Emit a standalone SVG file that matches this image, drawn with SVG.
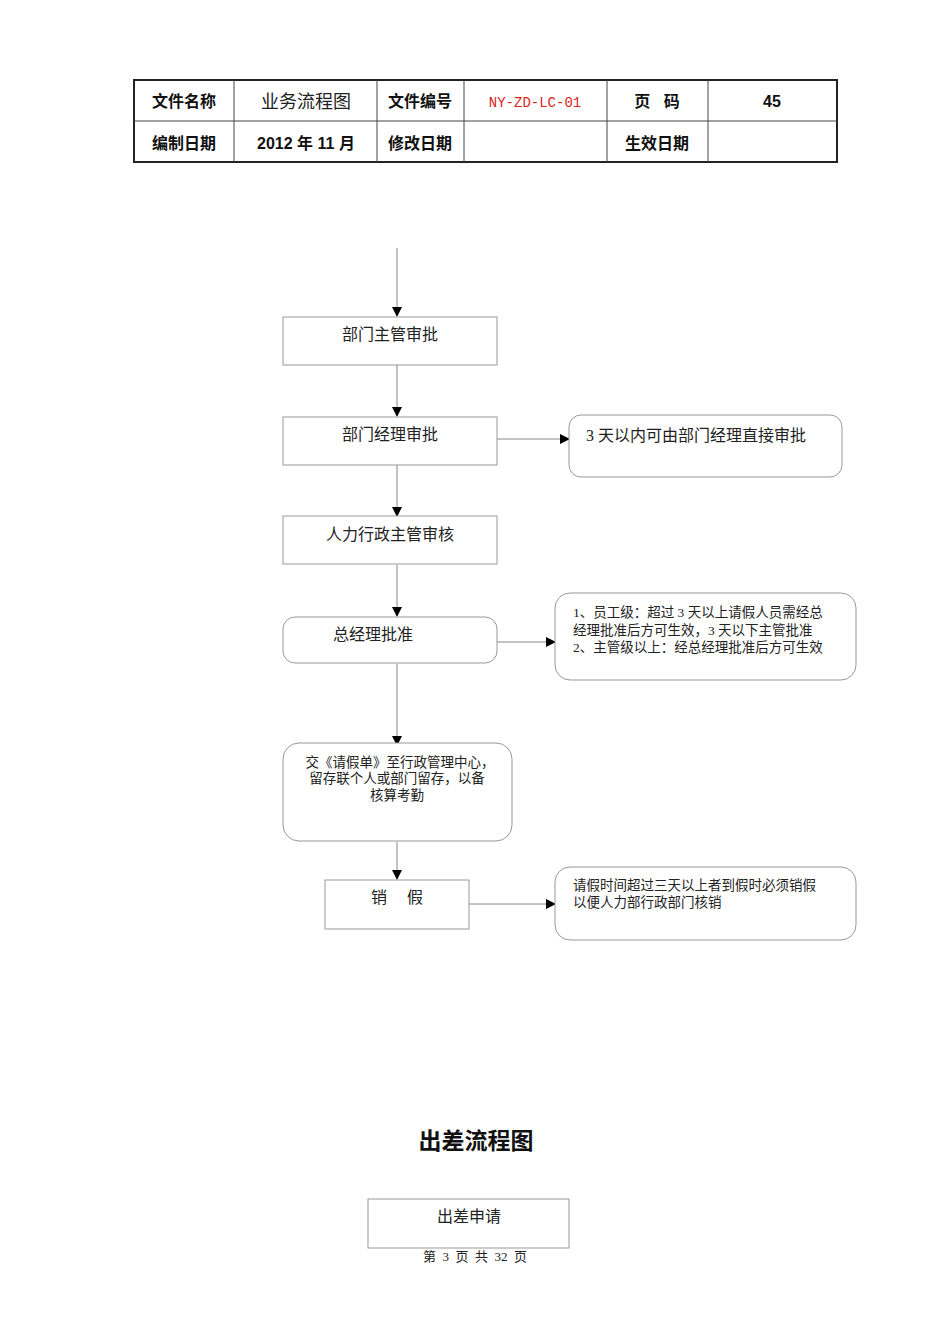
<svg xmlns="http://www.w3.org/2000/svg" width="950" height="1344" viewBox="0 0 950 1344">
<style>
.s{font-family:"Liberation Serif","Noto Sans CJK SC",serif;fill:#222}
.b{font-family:"Liberation Sans","Noto Sans CJK SC",sans-serif;font-weight:bold;fill:#111}
.n{fill:#fff;stroke:#999;stroke-width:1}
.c line{stroke:#888;stroke-width:1}
</style>
<defs><marker id="a" markerWidth="10" markerHeight="10" refX="9" refY="5" orient="auto" markerUnits="userSpaceOnUse"><path d="M0,0L10,5L0,10z" fill="#000"/></marker></defs>
<rect width="950" height="1344" fill="#fff"/>
<g id="header">
<rect x="134" y="80" width="703" height="82" fill="none" stroke="#222" stroke-width="2"/>
<line x1="134" y1="121" x2="837" y2="121" stroke="#444"/>
<g stroke="#444"><line x1="234" y1="80" x2="234" y2="162"/><line x1="377" y1="80" x2="377" y2="162"/><line x1="464" y1="80" x2="464" y2="162"/><line x1="607" y1="80" x2="607" y2="162"/><line x1="708" y1="80" x2="708" y2="162"/></g>
<g font-size="16" text-anchor="middle">
<text x="184" y="107" class="b">文件名称</text><text x="306" y="108" class="s" font-size="18" fill="#555">业务流程图</text><text x="420" y="107" class="b">文件编号</text>
<text x="535" y="107" font-family="Liberation Mono,monospace" font-size="14" fill="#d22">NY-ZD-LC-01</text>
<text x="657" y="107" class="b">页&#160;&#160;&#160;码</text><text x="772" y="107" class="b" font-weight="normal">45</text>
<text x="184" y="149" class="b">编制日期</text><text x="306" y="149" class="b" font-weight="normal">2012 年 11 月</text><text x="420" y="149" class="b">修改日期</text><text x="657" y="149" class="b">生效日期</text>
</g></g>
<g class="c">
<line x1="397" y1="248" x2="397" y2="316" marker-end="url(#a)"/>
<line x1="397" y1="365" x2="397" y2="416" marker-end="url(#a)"/>
<line x1="497" y1="439" x2="569" y2="439" marker-end="url(#a)"/>
<line x1="397" y1="465" x2="397" y2="516" marker-end="url(#a)"/>
<line x1="397" y1="565" x2="397" y2="616" marker-end="url(#a)"/>
<line x1="497" y1="642" x2="555" y2="642" marker-end="url(#a)"/>
<line x1="397" y1="664" x2="397" y2="745" marker-end="url(#a)"/>
<line x1="397" y1="842" x2="397" y2="879" marker-end="url(#a)"/>
<line x1="469" y1="904" x2="555" y2="904" marker-end="url(#a)"/>
</g>
<g class="s" font-size="16">
<g id="n1"><rect class="n" x="283" y="317" width="214" height="48"/><text x="390" y="340" text-anchor="middle">部门主管审批</text></g>
<g id="n2"><rect class="n" x="283" y="417" width="214" height="48"/><text x="390" y="440" text-anchor="middle">部门经理审批</text></g>
<g id="n3"><rect class="n" x="569" y="415" width="273" height="62" rx="12"/><text x="586" y="441">3 天以内可由部门经理直接审批</text></g>
<g id="n4"><rect class="n" x="283" y="516" width="214" height="48"/><text x="390" y="540" text-anchor="middle">人力行政主管审核</text></g>
<g id="n5"><rect class="n" x="283" y="617" width="214" height="46" rx="12"/><text x="373" y="640" text-anchor="middle">总经理批准</text></g>
<g id="n6"><rect class="n" x="555" y="593" width="301" height="87" rx="15"/><g font-size="13.5"><text x="573" y="617">1、员工级：超过 3 天以上请假人员需经总</text><text x="573" y="635">经理批准后方可生效，3 天以下主管批准</text><text x="573" y="652">2、主管级以上：经总经理批准后方可生效</text></g></g>
<g id="n7"><rect class="n" x="283" y="743" width="229" height="98" rx="16"/><g font-size="13.5" text-anchor="middle"><text x="400" y="767">交《请假单》至行政管理中心，</text><text x="397" y="783">留存联个人或部门留存，以备</text><text x="397" y="800">核算考勤</text></g></g>
<g id="n8"><rect class="n" x="325" y="880" width="144" height="49"/><text x="397" y="903" text-anchor="middle">销&#160;&#160;&#160;&#160;&#160;假</text></g>
<g id="n9"><rect class="n" x="555" y="867" width="301" height="73" rx="15"/><g font-size="13.5"><text x="573" y="890">请假时间超过三天以上者到假时必须销假</text><text x="573" y="907">以便人力部行政部门核销</text></g></g>
<text x="476" y="1149" text-anchor="middle" class="b" font-size="23">出差流程图</text>
<g id="n10"><rect class="n" x="368" y="1199" width="201" height="49"/><text x="469" y="1222" text-anchor="middle">出差申请</text></g>
<text x="475" y="1261" text-anchor="middle" font-size="13">第&#160;&#160;3&#160;&#160;页&#160;&#160;共&#160;&#160;32&#160;&#160;页</text>
</g>
</svg>
